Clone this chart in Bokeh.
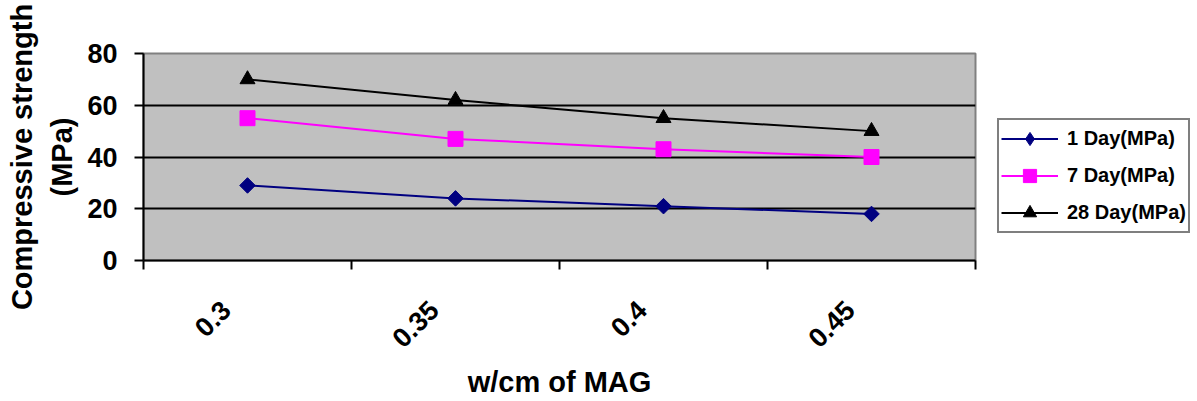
import math
from bokeh.plotting import figure
from bokeh.layouts import row
from bokeh.models import Range1d, FixedTicker, Legend, LegendItem, LinearAxis
from bokeh.embed import file_html
from bokeh.resources import INLINE

categories = ["0.3", "0.35", "0.4", "0.45"]
day1 = [29, 24, 21, 18]
day7 = [55, 47, 43, 40]
day28 = [70, 62, 55, 50]
series_names = ["1 Day(MPa)", "7 Day(MPa)", "28 Day(MPa)"]
y_ticks = [0, 20, 40, 60, 80]
grid_ticks = [20, 40, 60]

xs = [i + 0.5 for i in range(len(categories))]

W_MAIN, W_LEG, H = 983, 214, 401
FL, FT, FR, FB = 143, 53, 975, 261
FONT = "Liberation Sans"
NB = "\u00a0"
C1, C7, C28 = "#000080", "#FF00FF", "#000000"

p = figure(width=W_MAIN, height=H, output_backend="svg", toolbar_location=None,
           x_range=Range1d(0, len(categories)), y_range=Range1d(0, 80),
           min_border_left=FL, min_border_right=W_MAIN - FR,
           min_border_top=FT, min_border_bottom=H - FB)
p.background_fill_color = "#C0C0C0"
p.border_fill_color = "white"
p.outline_line_color = "#808080"
p.outline_line_width = 2

# x axis
xa = p.xaxis[0]
xa.ticker = FixedTicker(ticks=xs, minor_ticks=list(range(len(categories) + 1)))
xa.major_label_overrides = {x: c + NB * 4 for x, c in zip(xs, categories)}
xa.major_tick_out = 0
xa.major_tick_in = 0
xa.minor_tick_out = 9
xa.minor_tick_in = 0
xa.minor_tick_line_color = "black"
xa.minor_tick_line_width = 2
xa.axis_line_color = "black"
xa.axis_line_width = 2
xa.major_label_orientation = math.pi / 4
xa.major_label_standoff = 15
xa.major_label_text_font = FONT
xa.major_label_text_font_style = "bold"
xa.major_label_text_font_size = "27px"
xa.major_label_text_color = "black"
xa.axis_label = "w/cm of MAG"
xa.axis_label_standoff = -1
xa.axis_label_text_font = FONT
xa.axis_label_text_font_style = "bold"
xa.axis_label_text_font_size = "29px"
xa.axis_label_text_color = "black"

# y axis
ya = p.yaxis[0]
ya.ticker = FixedTicker(ticks=y_ticks)
ya.major_tick_out = 9
ya.major_tick_in = 0
ya.major_tick_line_color = "black"
ya.major_tick_line_width = 2
ya.axis_line_color = "black"
ya.axis_line_width = 2
ya.major_label_standoff = 17
ya.major_label_text_font = FONT
ya.major_label_text_font_style = "bold"
ya.major_label_text_font_size = "27px"
ya.major_label_text_color = "black"
ya.axis_label = "(MPa)"
ya.axis_label_standoff = 6
ya.axis_label_text_font = FONT
ya.axis_label_text_font_style = "bold"
ya.axis_label_text_font_size = "29px"
ya.axis_label_text_color = "black"

# outer axis carrying only the first line of the y title
ya2 = LinearAxis(ticker=FixedTicker(ticks=[]), axis_line_alpha=0,
                 major_tick_line_alpha=0, minor_tick_line_alpha=0,
                 axis_label="Compressive strength", axis_label_standoff=6,
                 axis_label_text_font=FONT, axis_label_text_font_style="bold",
                 axis_label_text_font_size="29px", axis_label_text_color="black")
p.add_layout(ya2, "left")

p.xgrid.visible = False
p.ygrid.ticker = FixedTicker(ticks=grid_ticks)
p.ygrid.grid_line_color = "black"
p.ygrid.grid_line_width = 2

# series
p.line(xs, day1, line_color=C1, line_width=2)
p.scatter(xs, day1, marker="square", angle=math.pi / 4, size=11,
          fill_color=C1, line_color=C1)
p.line(xs, day7, line_color=C7, line_width=2)
p.scatter(xs, day7, marker="square", size=15, fill_color=C7, line_color=C7)
p.line(xs, day28, line_color=C28, line_width=2)
p.scatter(xs, day28, marker="triangle", size=15, fill_color=C28, line_color=C28)

# legend panel (its own figure; series drawn outside its visible range)
q = figure(width=W_LEG, height=H, output_backend="svg", toolbar_location=None,
           x_axis_type=None, y_axis_type=None,
           x_range=Range1d(0, 1), y_range=Range1d(-10, -9), min_border=0)
q.outline_line_color = None
q.background_fill_color = "white"
q.border_fill_color = "white"
q.grid.visible = False
ql1 = q.line(xs, day1, line_color=C1, line_width=2)
qm1 = q.scatter(xs, day1, marker="diamond", size=15, fill_color=C1, line_color=C1)
ql7 = q.line(xs, day7, line_color=C7, line_width=2)
qm7 = q.scatter(xs, day7, marker="square", size=15, fill_color=C7, line_color=C7)
ql28 = q.line(xs, day28, line_color=C28, line_width=2)
qm28 = q.scatter(xs, day28, marker="triangle", size=15, fill_color=C28, line_color=C28)

legend = Legend(items=[
    LegendItem(label=series_names[0], renderers=[ql1, qm1]),
    LegendItem(label=series_names[1], renderers=[ql7, qm7]),
    LegendItem(label=series_names[2], renderers=[ql28, qm28]),
], location=(14, 27))
legend.border_line_color = "black"
legend.border_line_width = 2
legend.background_fill_color = "white"
legend.background_fill_alpha = 1
legend.label_text_font = FONT
legend.label_text_font_style = "bold"
legend.label_text_font_size = "20px"
legend.label_text_color = "black"
legend.glyph_width = 57
legend.glyph_height = 33
legend.spacing = 4
legend.padding = 2
legend.margin = 0
legend.label_standoff = 9
q.add_layout(legend)

layout = row(p, q)
open("out.html", "w").write(file_html(layout, INLINE))
